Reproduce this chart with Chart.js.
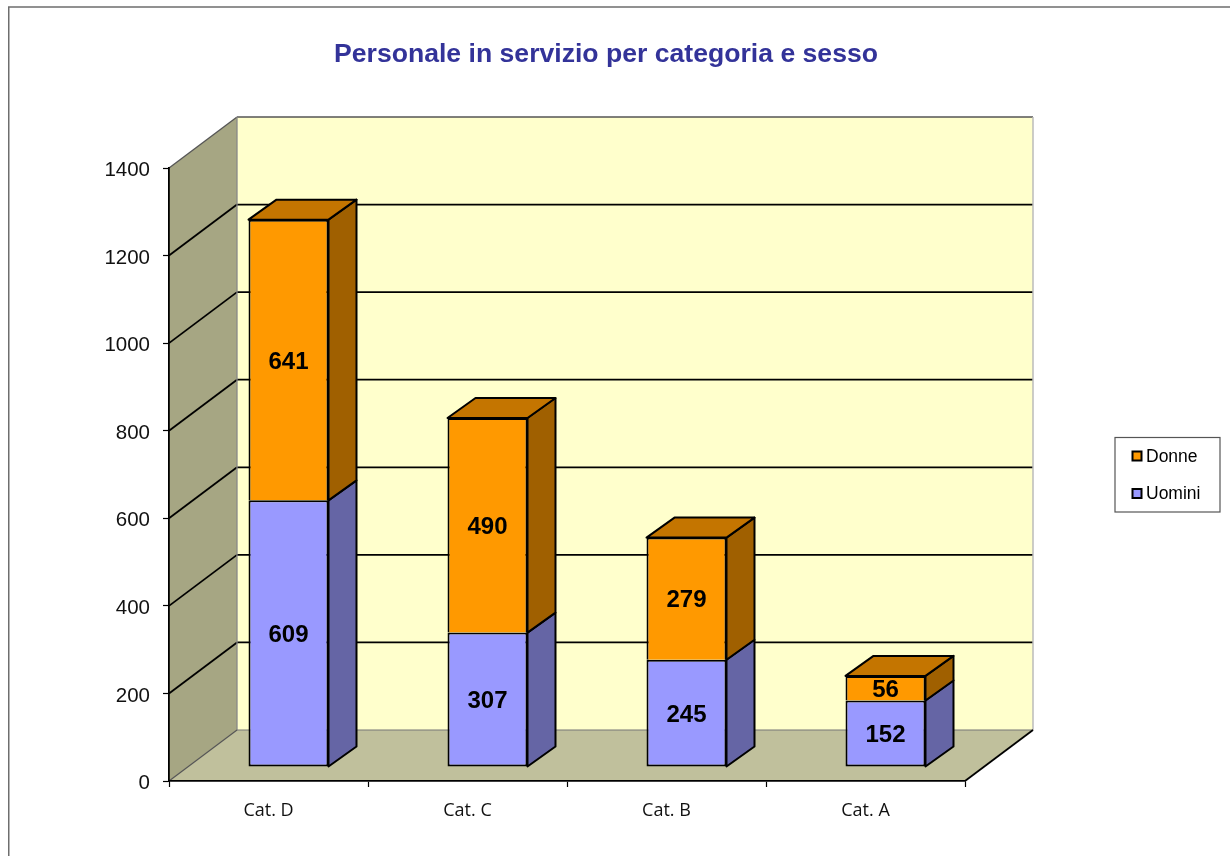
<!DOCTYPE html>
<html><head><meta charset="utf-8">
<style>html,body{margin:0;padding:0;background:#fff;overflow:hidden}canvas{display:block}</style>
<script src="https://cdn.jsdelivr.net/npm/chart.js@4"></script>
</head><body><canvas id="c" width="1230" height="856" style="width:1230px;height:856px"></canvas>
<script>
const categories = ["Cat. D", "Cat. C", "Cat. B", "Cat. A"];
const uomini = [609, 307, 245, 152];
const donne = [641, 490, 279, 56];
const chartTitle = "Personale in servizio per categoria e sesso";
const SANS = '"Liberation Sans", Arial, sans-serif';
const WALL = {dx: 68, dy: -51};
const BAR_SHIFT = {dx: 20, dy: -14};
const BAR_DEPTH = {dx: 28, dy: -20};

function poly(ctx, pts, fill, stroke, lw) {
  ctx.beginPath();
  pts.forEach((p, i) => i ? ctx.lineTo(p[0], p[1]) : ctx.moveTo(p[0], p[1]));
  ctx.closePath();
  if (fill) { ctx.fillStyle = fill; ctx.fill(); }
  if (stroke) { ctx.strokeStyle = stroke; ctx.lineWidth = lw || 1; ctx.stroke(); }
}
function line(ctx, x1, y1, x2, y2, color, lw) {
  ctx.beginPath(); ctx.moveTo(x1, y1); ctx.lineTo(x2, y2);
  ctx.strokeStyle = color; ctx.lineWidth = lw; ctx.stroke();
}
const scene = {
  id: 'scene',
  beforeDraw(chart) {
    const {ctx, chartArea: a, scales} = chart;
    const {dx, dy} = WALL;
    ctx.save();
    ctx.fillStyle = '#fff'; ctx.fillRect(0, 0, chart.width, chart.height);
    ctx.strokeStyle = '#6e6e6e'; ctx.lineWidth = 1.5;
    ctx.strokeRect(8.75, 7, 3000, 3000);
    poly(ctx, [[a.left+dx,a.top+dy],[a.right+dx,a.top+dy],[a.right+dx,a.bottom+dy],[a.left+dx,a.bottom+dy]], '#FFFFCC');
    poly(ctx, [[a.left,a.top],[a.left+dx,a.top+dy],[a.left+dx,a.bottom+dy],[a.left,a.bottom]], '#A6A683');
    poly(ctx, [[a.left,a.bottom],[a.right,a.bottom],[a.right+dx,a.bottom+dy],[a.left+dx,a.bottom+dy]], '#C0C09C');
    scales.y.ticks.forEach(t => {
      const y = scales.y.getPixelForValue(t.value);
      if (t.value === 0 || t.value === scales.y.max) return;
      line(ctx, a.left, y, a.left+dx, y+dy, '#000', 1.8);
      line(ctx, a.left+dx, y+dy, a.right+dx, y+dy, '#000', 1.8);
    });
    line(ctx, a.left, a.top, a.left+dx, a.top+dy, '#555', 1.3);
    line(ctx, a.left+dx, a.top+dy, a.right+dx, a.top+dy, '#555', 1.5);
    line(ctx, a.left+dx, a.top+dy, a.left+dx, a.bottom+dy, '#888', 1.3);
    line(ctx, a.right+dx, a.top+dy, a.right+dx, a.bottom+dy, '#bbb', 1.5);
    line(ctx, a.left+dx, a.bottom+dy, a.right+dx, a.bottom+dy, '#777', 1.2);
    line(ctx, a.left, a.bottom, a.left+dx, a.bottom+dy, '#555', 1.2);
    line(ctx, a.right, a.bottom, a.right+dx, a.bottom+dy, '#000', 1.8);
    ctx.restore();
  },
  beforeDatasetsDraw(chart) {
    const {ctx} = chart;
    const d = BAR_DEPTH;
    const sideColors = ['#6565A5', '#A06000'];
    ctx.save();
    ctx.translate(BAR_SHIFT.dx, BAR_SHIFT.dy);
    ctx.lineJoin = 'round';
    chart.data.datasets.forEach((ds, i) => {
      chart.getDatasetMeta(i).data.forEach(b => {
        const r = b.x + b.width/2, top = b.y, bot = b.base;
        poly(ctx, [[r,top],[r+d.dx,top+d.dy],[r+d.dx,bot+d.dy],[r,bot]], sideColors[i], '#000', 2);
        if (i === 1) {
          const l = b.x - b.width/2;
          poly(ctx, [[l,top],[r,top],[r+d.dx,top+d.dy],[l+d.dx,top+d.dy]], '#C47500', '#000', 2);
        }
      });
    });
    ctx.restore();
    ctx.save();
    ctx.translate(BAR_SHIFT.dx, BAR_SHIFT.dy);
  },
  afterDatasetsDraw(chart) {
    const {ctx} = chart;
    ctx.restore();
    ctx.save();
    ctx.translate(BAR_SHIFT.dx, BAR_SHIFT.dy);
    ctx.fillStyle = '#000';
    ctx.font = 'bold 24px ' + SANS;
    ctx.textAlign = 'center'; ctx.textBaseline = 'middle';
    chart.data.datasets.forEach((ds, i) => {
      chart.getDatasetMeta(i).data.forEach((b, j) => {
        ctx.fillText(String(ds.data[j]), b.x, (b.y + b.base)/2 + 2);
      });
    });
    ctx.restore();
  },
  afterDraw(chart) {
    const {ctx} = chart;
    ctx.save();
    ctx.fillStyle = '#333399';
    ctx.font = 'bold 26.6px ' + SANS;
    ctx.textAlign = 'center'; ctx.textBaseline = 'middle';
    ctx.fillText(chartTitle, 606, 55);
    ctx.strokeStyle = '#555'; ctx.lineWidth = 1.2;
    ctx.strokeRect(1115, 437.5, 105, 74.5);
    ctx.font = '17.5px ' + SANS;
    ctx.textAlign = 'left';
    const entries = chart.data.datasets.slice().reverse();
    entries.forEach((ds, i) => {
      const y = 456 + i*37.5;
      ctx.fillStyle = ds.backgroundColor;
      ctx.strokeStyle = '#000'; ctx.lineWidth = 2;
      ctx.fillRect(1132.5, y-4.5, 9, 9);
      ctx.strokeRect(1132.5, y-4.5, 9, 9);
      ctx.fillStyle = '#000';
      ctx.fillText(ds.label, 1146, y + 1);
    });
    ctx.restore();
  }
};

new Chart(document.getElementById('c'), {
  type: 'bar',
  plugins: [scene],
  data: {
    labels: categories,
    datasets: [
      {label: 'Uomini', data: uomini, backgroundColor: '#9999FF', borderColor: '#000', borderWidth: 2, borderSkipped: false},
      {label: 'Donne', data: donne, backgroundColor: '#FF9900', borderColor: '#000', borderWidth: 2, borderSkipped: 'start'}
    ]
  },
  options: {
    responsive: false,
    animation: false,
    devicePixelRatio: 1,
    layout: {padding: {left: 0, top: 168, right: 265, bottom: 0}},
    datasets: {bar: {barPercentage: 1, categoryPercentage: 0.402}},
    plugins: {legend: {display: false}, title: {display: false}, tooltip: {enabled: false}},
    scales: {
      x: {
        stacked: true,
        afterFit(s) { s.height = 75; },
        grid: {drawOnChartArea: false, offset: true, tickLength: 6, tickColor: '#000', tickWidth: 1.2},
        border: {color: '#000', width: 1.8},
        ticks: {color: '#111', font: {family: '"Open Sans"', size: 18}, padding: 13, maxRotation: 0}
      },
      y: {
        stacked: true, min: 0, max: 1400,
        afterFit(s) { s.width = 169; },
        grid: {drawOnChartArea: false, tickLength: 6, tickColor: '#000', tickWidth: 1.2},
        border: {color: '#000', width: 1.8},
        ticks: {stepSize: 200, color: '#111', font: {family: SANS, size: 20.5}, padding: 13, labelOffset: 2.5,
                callback: v => String(v)}
      }
    }
  }
});
</script></body></html>
